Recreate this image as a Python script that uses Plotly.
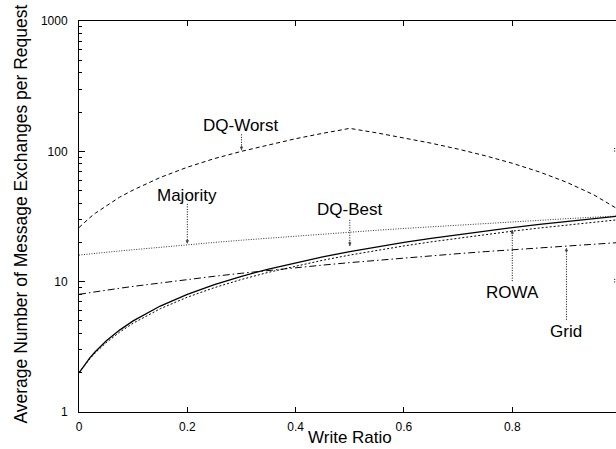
import math
import plotly.graph_objects as go

# ---- data ----
write_ratio = [0, 0.01, 0.02, 0.03, 0.05, 0.075, 0.1, 0.15, 0.2, 0.25, 0.3, 0.35, 0.4,
               0.45, 0.5, 0.55, 0.6, 0.65, 0.7, 0.75, 0.8, 0.85, 0.9, 0.95, 1.0]
rowa = [2, 2.3, 2.6, 2.9, 3.5, 4.25, 5, 6.5, 8, 9.5, 11, 12.5, 14, 15.5, 17, 18.5, 20,
        21.5, 23, 24.5, 26, 27.5, 29, 30.5, 32]
dq_best = [2, 2.28, 2.56, 2.84, 3.4, 4.1, 4.8, 6.2, 7.6, 9, 10.4, 11.8, 13.2, 14.6, 16,
           17.4, 18.8, 20.2, 21.6, 23, 24.4, 25.8, 27.2, 28.6, 30]
majority = [16, 16.2, 16.3, 16.5, 16.8, 17.2, 17.6, 18.4, 19.2, 20, 20.8, 21.6, 22.4,
            23.2, 24, 24.8, 25.6, 26.4, 27.2, 28, 28.8, 29.6, 30.4, 31.2, 32]
grid = [8, 8.1, 8.2, 8.4, 8.6, 8.9, 9.2, 9.8, 10.4, 11, 11.6, 12.2, 12.8, 13.4, 14, 14.6,
        15.2, 15.8, 16.4, 17, 17.6, 18.2, 18.8, 19.4, 20]
dq_worst = [26, 28.5, 31, 33.5, 38, 44.5, 50.5, 63, 75.5, 88, 100, 112.5, 125, 137.5, 150,
            138.5, 127, 115.5, 104, 92.5, 81, 69.5, 58, 46.5, 35]

x_ticks = [0, 0.2, 0.4, 0.6, 0.8, 1.0]
x_tick_labels = ["0", "0.2", "0.4", "0.6", "0.8", "1"]
y_ticks = [1, 10, 100, 1000]
y_tick_labels = ["1", "10", "100", "1000"]
y_minor = [m * d for d in (1, 10, 100) for m in range(2, 10)]

# label, x, label y, shaft start y, arrow tip y
callouts = [
    ("DQ-Worst", 0.3, 159, 135, 102),
    ("Majority", 0.2, 46, 39.5, 19.5),
    ("DQ-Best", 0.5, 35.8, 29.8, 18.8),
    ("ROWA", 0.8, 8.3, 10.1, 24.9),
    ("Grid", 0.9, 4.16, 5.1, 18.2),
]

FONT = "Liberation Sans, Arial, Helvetica, sans-serif"

fig = go.Figure()
series = [
    (dq_worst, dict(color="black", width=1, dash="4px,3px")),
    (majority, dict(color="#333", width=1, dash="1px,1.5px")),
    (grid, dict(color="black", width=1, dash="7px,3px,1.5px,3px")),
    (dq_best, dict(color="black", width=1, dash="2px,2px")),
    (rowa, dict(color="black", width=1.3)),
]
for ys, ln in series:
    fig.add_trace(go.Scatter(x=write_ratio, y=ys, mode="lines", line=ln,
                             showlegend=False, hoverinfo="skip"))

for text, x, ly, y0, y1 in callouts:
    fig.add_annotation(x=x, y=math.log10(ly), text=text, showarrow=False,
                       font=dict(family=FONT, size=17, color="black"),
                       xanchor="center", yanchor="middle")
    fig.add_shape(type="line", x0=x, x1=x, y0=y0, y1=y1, xref="x", yref="y",
                  line=dict(color="black", width=1, dash="1px,1.5px"))
    down = y1 < y0
    fig.add_annotation(x=x, y=math.log10(y1), ax=0, ay=(-6 if down else 6), text="",
                       showarrow=True, arrowhead=2, arrowsize=0.7, arrowwidth=1,
                       arrowcolor="#444")

# tiny marks at the cut-off right edge
for ya, yb in [(106, 97), (10.5, 9.6)]:
    fig.add_shape(type="line", x0=0.9975, x1=0.9975, y0=ya, y1=yb, xref="paper", yref="y",
                  line=dict(color="black", width=1, dash="1px,1.5px"))

# axis titles
fig.add_annotation(text="Write Ratio", xref="x", yref="paper", x=0.5, y=-0.039,
                   showarrow=False, xanchor="center", yanchor="top", borderpad=0,
                   font=dict(family=FONT, size=17, color="black"))
fig.add_annotation(text="Average Number of Message Exchanges per Request", xref="paper",
                   yref="paper", x=-0.108, y=0.505, textangle=-90, showarrow=False,
                   xanchor="center", yanchor="middle",
                   font=dict(family=FONT, size=17.5, color="black"))

fig.update_layout(
    width=616, height=449,
    margin=dict(l=79, r=0, t=21, b=37),
    paper_bgcolor="white", plot_bgcolor="white",
    font=dict(family=FONT, color="black"),
)
fig.update_xaxes(range=[0, 0.9915], tickvals=x_ticks, ticktext=x_tick_labels,
                 ticks="inside", ticklen=5, tickwidth=1, tickcolor="black",
                 showline=True, linecolor="black", linewidth=1, mirror="allticks",
                 showgrid=False, zeroline=False, tickfont=dict(size=12, family=FONT),
                 ticklabelstandoff=4)
fig.update_yaxes(type="log", range=[0, 3], tickvals=y_ticks, ticktext=y_tick_labels,
                 ticks="inside", ticklen=6, tickwidth=1, tickcolor="black",
                 minor=dict(tickvals=y_minor, ticks="inside", ticklen=3,
                            tickcolor="black", showgrid=False),
                 showline=True, linecolor="black", linewidth=1, mirror=False,
                 showgrid=False, zeroline=False, tickfont=dict(size=12, family=FONT),
                 ticklabelstandoff=8)

fig.write_html("out.html")
